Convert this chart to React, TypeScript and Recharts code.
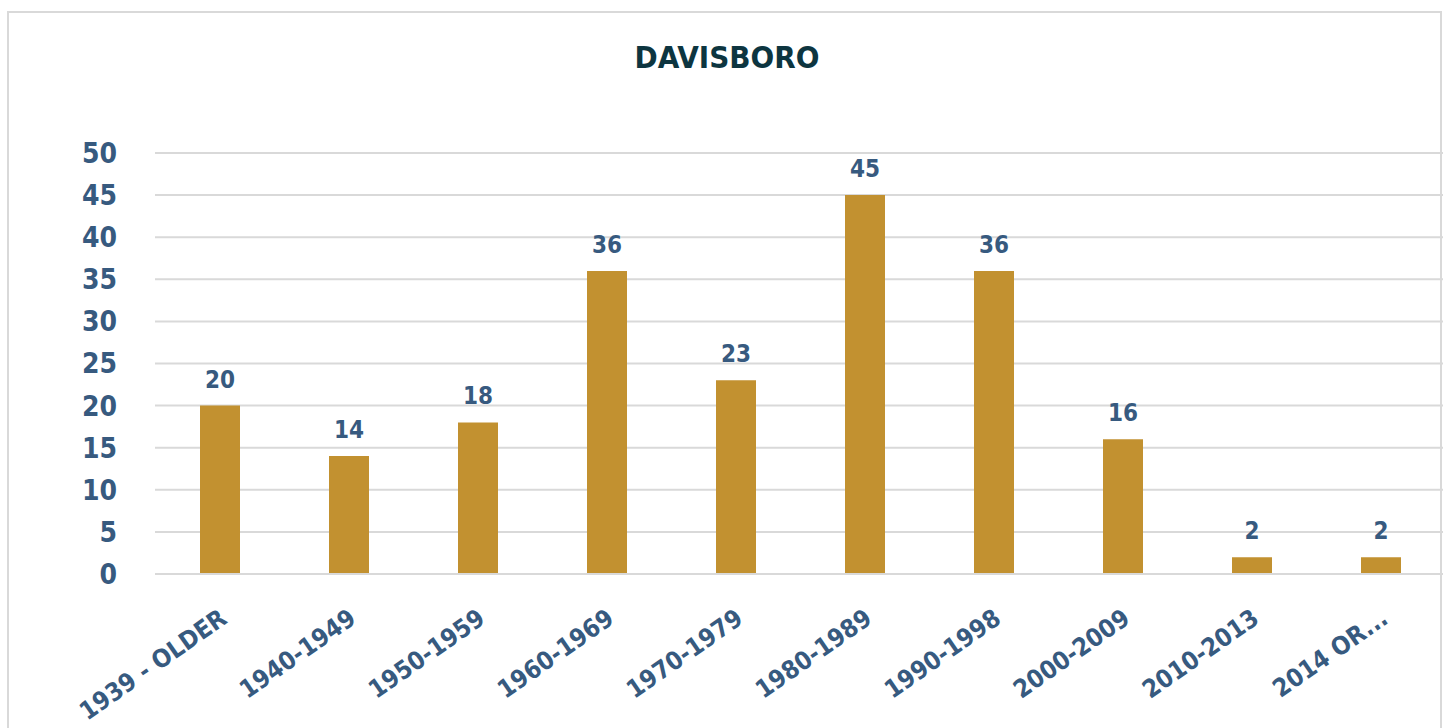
import { BarChart, Bar, XAxis, YAxis, CartesianGrid, LabelList } from 'recharts';

const categories = [
  '1939 - OLDER', '1940-1949', '1950-1959', '1960-1969', '1970-1979',
  '1980-1989', '1990-1998', '2000-2009', '2010-2013', '2014 OR...',
];
const homes = [20, 14, 18, 36, 23, 45, 36, 16, 2, 2];
const yTicks = [0, 5, 10, 15, 20, 25, 30, 35, 40, 45, 50];

const data = categories.map((name, i) => ({ name, homes: homes[i] }));

const FONT = "'DejaVu Sans Condensed', 'DejaVu Sans', sans-serif";
const BLUE = '#375A7F';

function AngledTick(props: any) {
  const { x, y, payload } = props;
  const tx = x + 9;
  const ty = y + 40;
  return (
    <text
      x={tx}
      y={ty}
      transform={`rotate(-35, ${tx}, ${ty})`}
      textAnchor="end"
      fill={BLUE}
      fontFamily={FONT}
      fontWeight="bold"
      fontSize={25}
    >
      {payload.value}
    </text>
  );
}

export default function App() {
  return (
    <div style={{ position: 'absolute', left: 0, top: 0, width: 1443, height: 728, background: '#fff', overflow: 'hidden' }}>
      <div
        style={{
          position: 'absolute', left: 0, top: 39, width: 1454, textAlign: 'center',
          fontFamily: FONT, fontWeight: 'bold', fontSize: 31,
          lineHeight: '36px', color: '#0D3540',
        }}
      >
        DAVISBORO
      </div>
      <div style={{ position: 'absolute', left: 0, top: 0 }}>
        <BarChart
          width={1449}
          height={728}
          data={data}
          margin={{ top: 153, right: 4, left: 95, bottom: 54 }}
        >
          <CartesianGrid vertical={false} stroke="#D9D9D9" strokeWidth={2} />
          <XAxis
            dataKey="name"
            interval={0}
            height={100}
            tickLine={false}
            axisLine={{ stroke: '#D9D9D9', strokeWidth: 2 }}
            tick={<AngledTick />}
          />
          <YAxis
            width={60}
            domain={[0, 50]}
            ticks={yTicks}
            axisLine={false}
            tickLine={false}
            tickSize={0}
            tickMargin={38}
            tick={{ fill: BLUE, fontSize: 28, fontWeight: 'bold', fontFamily: FONT }}
          />
          <Bar dataKey="homes" fill="#C29130" barSize={40} isAnimationActive={false}>
            <LabelList
              dataKey="homes"
              position="top"
              offset={18}
              fill={BLUE}
              fontSize={24}
              fontWeight="bold"
              fontFamily={FONT}
            />
          </Bar>
        </BarChart>
      </div>
      <div
        style={{
          position: 'absolute', left: 7, top: 11, width: 1431, height: 740,
          border: '2px solid #D9D9D9',
        }}
      />
    </div>
  );
}
